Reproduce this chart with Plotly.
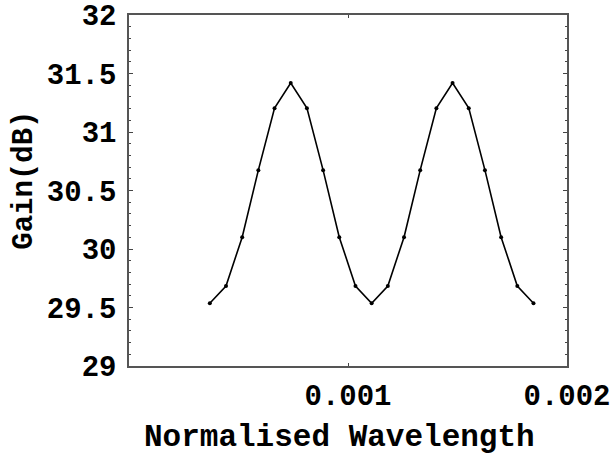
import plotly.graph_objects as go

x_start = 0.000369
x_step = 0.0000739
gain_db = [29.536, 29.684, 30.101, 30.674, 31.204, 31.418, 31.204, 30.674, 30.101, 29.684,
           29.536, 29.684, 30.101, 30.674, 31.204, 31.418, 31.204, 30.674, 30.101, 29.684, 29.536]
wavelength = [x_start + i * x_step for i in range(len(gain_db))]

x_tickvals = [0.001, 0.002]
x_ticktext = ["0.001", "0.002"]
y_tickvals = [29, 29.5, 30, 30.5, 31, 31.5, 32]
y_ticktext = ["29", "29.5", "30", "30.5", "31", "31.5", "32"]

FONT = "Liberation Mono"

fig = go.Figure()
fig.add_trace(go.Scatter(
    x=wavelength, y=gain_db, mode="lines+markers",
    line=dict(color="black", width=1.6),
    marker=dict(color="black", size=4),
    showlegend=False,
))

axis_common = dict(
    showgrid=False, zeroline=False, showline=True, linecolor="#555555", linewidth=1.5,
    mirror="ticks", ticks="inside", tickcolor="#444444", automargin=False,
    tickfont=dict(family=FONT, size=29, color="black", weight="bold"),
)

fig.update_xaxes(range=[0, 0.002], tickvals=x_tickvals, ticktext=x_ticktext,
                 ticklen=3, tickwidth=1, ticklabelstandoff=2, **axis_common)
fig.update_yaxes(range=[29, 32], tickvals=y_tickvals, ticktext=y_ticktext,
                 ticklen=4, tickwidth=1, ticklabelstandoff=5,
                 minor=dict(dtick=0.1, ticks="inside", ticklen=2, tickcolor="#444444"),
                 **axis_common)

fig.add_annotation(text="<b>Normalised Wavelength</b>", xref="paper", yref="paper",
                   x=0.48, y=-0.205, xanchor="center", yanchor="middle", showarrow=False,
                   font=dict(family=FONT, size=31, color="black"))
fig.add_annotation(text="<b>Gain(dB)</b>", xref="paper", yref="paper",
                   x=-0.238, y=0.53, xanchor="center", yanchor="middle", showarrow=False,
                   textangle=-90, font=dict(family=FONT, size=29, color="black"))

fig.update_layout(
    width=614, height=460,
    margin=dict(l=129, r=47, t=15, b=94),
    plot_bgcolor="white", paper_bgcolor="white",
)

fig.write_html("out.html")
